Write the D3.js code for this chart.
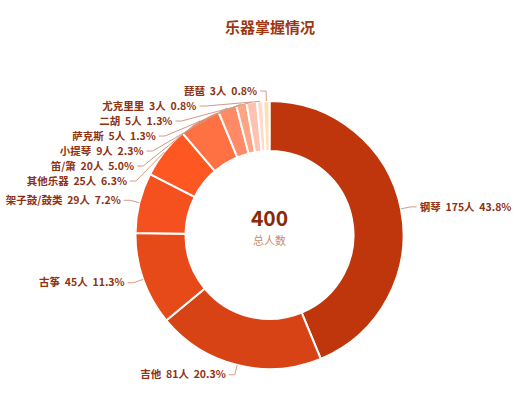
<!DOCTYPE html>
<html>
<head>
<meta charset="utf-8">
<script src="https://cdn.jsdelivr.net/npm/d3@7"></script>
<style>
  body { margin: 0; background: #fff; }
  svg { display: block; font-family: "Noto Sans CJK SC", "Noto Sans", sans-serif; }
</style>
</head>
<body>
<script>
var width = 522, height = 419;

// data
var instruments = ['钢琴', '吉他', '古筝', '架子鼓/鼓类', '其他乐器', '笛/箫', '小提琴', '萨克斯', '二胡', '尤克里里', '琵琶'];
var counts = [175, 81, 45, 29, 25, 20, 9, 5, 5, 3, 3];
var colors = ['#bf360c', '#d84315', '#e64a19', '#f4511e', '#ff5722', '#ff7043', '#ff8a65', '#ffa585', '#ffc2ae', '#ffd9cc', '#ffe0b2'];
var titleText = '乐器掌握情况';
var centerLabel = '总人数';

var cx = 269.5, cy = 235;
var rOuter = 134, rInner = 84;
var len1 = 10, len2 = 6, lineH = 15;

var data = instruments.map(function(name, i){
  return { name: name, value: counts[i], color: colors[i] };
});
var total = d3.sum(counts);

var svg = d3.select('body').append('svg')
  .attr('width', width).attr('height', height);

svg.append('text')
  .attr('x', 270).attr('y', 33)
  .attr('text-anchor', 'middle')
  .attr('font-size', 15).attr('font-weight', 'bold')
  .attr('fill', '#a0360f')
  .text(titleText);

var pie = d3.pie().sort(null).value(function(d){ return d.value; });
var arc = d3.arc().innerRadius(rInner).outerRadius(rOuter);
var arcs = pie(data);

var g = svg.append('g').attr('transform', 'translate(' + cx + ',' + cy + ')');

g.selectAll('path.slice')
  .data(arcs)
  .enter()
  .append('path')
  .attr('class', 'slice')
  .attr('d', arc)
  .attr('fill', function(d){ return d.data.color; })
  .attr('stroke', '#fff')
  .attr('stroke-width', 2);

// label layout: elbow at rOuter+len1, then push left labels apart
var labels = arcs.map(function(d){
  var m = (d.startAngle + d.endAngle) / 2;
  var s = Math.sin(m), c = Math.cos(m);
  return {
    d: d,
    side: s < 0 ? -1 : 1,
    p0: [s * rOuter, -c * rOuter],
    ex: s * (rOuter + len1),
    ey: -c * (rOuter + len1)
  };
});

var R = rOuter + len1;
[-1, 1].forEach(function(side){
  var list = labels.filter(function(l){ return l.side === side; })
    .sort(function(a, b){ return a.ey - b.ey; });
  var prev = -Infinity;
  list.forEach(function(l){
    if (l.ey < prev + lineH) {
      l.ey = prev + lineH;
      if (Math.abs(l.ey) < R) l.ex = side * Math.sqrt(R * R - l.ey * l.ey);
    }
    prev = l.ey;
  });
});

g.selectAll('polyline.lead')
  .data(labels)
  .enter()
  .append('polyline')
  .attr('class', 'lead')
  .attr('fill', 'none')
  .attr('stroke', '#d39a84')
  .attr('stroke-width', 1)
  .attr('points', function(l){
    return [l.p0, [l.ex, l.ey], [l.ex + l.side * len2, l.ey]].join(' ');
  });

var gap = '\u00a0\u00a0';
g.selectAll('text.lbl')
  .data(labels)
  .enter()
  .append('text')
  .attr('class', 'lbl')
  .attr('x', function(l){ return l.ex + l.side * (len2 + 3); })
  .attr('y', function(l){ return l.ey; })
  .attr('dy', '0.35em')
  .attr('text-anchor', function(l){ return l.side < 0 ? 'end' : 'start'; })
  .attr('font-size', 10.5).attr('font-weight', 'bold')
  .attr('fill', '#8f3213')
  .text(function(l){
    var v = l.d.data.value;
    return l.d.data.name + gap + v + '人' + gap + (v / total * 100).toFixed(1) + '%';
  });

g.append('text')
  .attr('x', 0).attr('y', -9)
  .attr('text-anchor', 'middle')
  .attr('font-size', 21).attr('font-weight', 'bold')
  .attr('fill', '#8a2a0a')
  .text(total);

g.append('text')
  .attr('x', 0).attr('y', 10)
  .attr('text-anchor', 'middle')
  .attr('font-size', 11)
  .attr('fill', '#cc8a6e')
  .text(centerLabel);
</script>
</body>
</html>
